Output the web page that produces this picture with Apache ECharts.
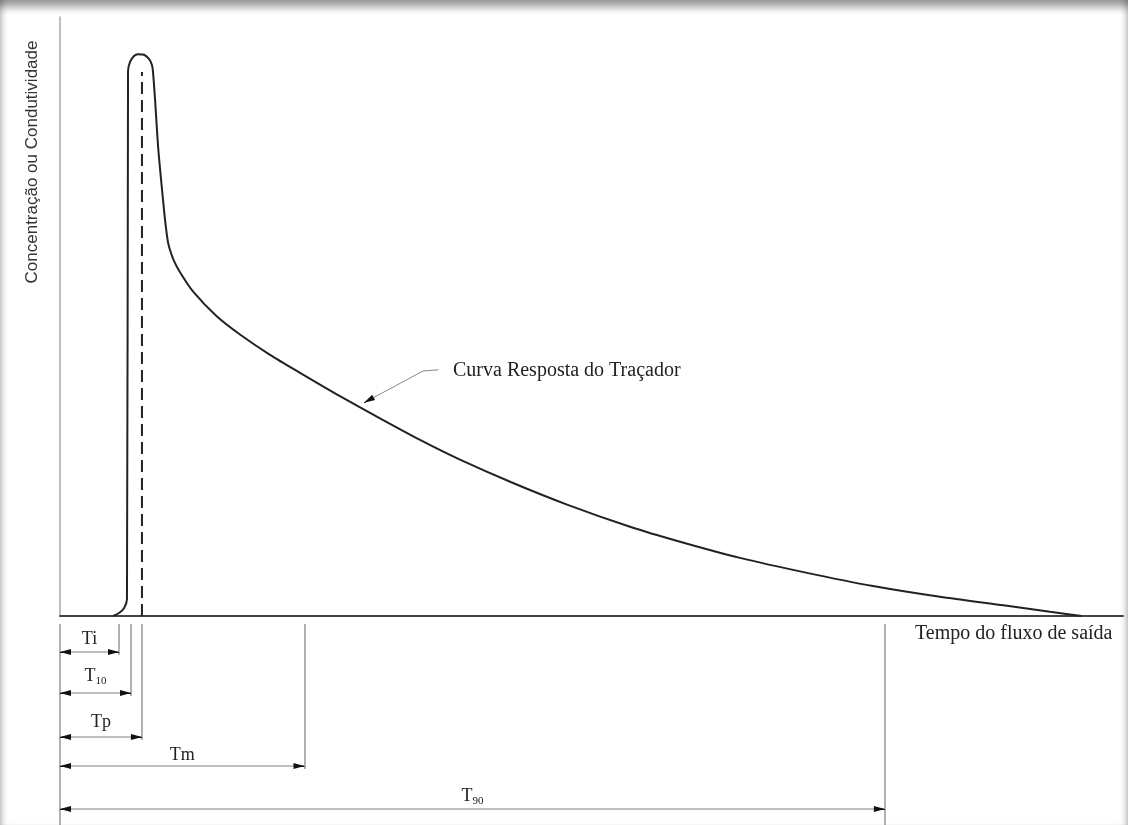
<!DOCTYPE html>
<html>
<head>
<meta charset="utf-8">
<script src="https://cdn.jsdelivr.net/npm/echarts@6/dist/echarts.min.js"></script>
<style>
  html, body { margin: 0; padding: 0; background: #fff; }
  #chart { width: 1128px; height: 825px; }
  #frame {
    position: absolute; left: 0; top: 0; width: 1128px; height: 825px; pointer-events: none;
    box-shadow: inset 0 12px 8px -5px rgba(0,0,0,0.4), inset 6px 0 6px -4px rgba(0,0,0,0.25), inset -6px 0 6px -4px rgba(0,0,0,0.25);
  }
</style>
</head>
<body>
<div id="chart"></div>
<div id="frame"></div>
<script>
  // curva resposta do traçador (tempo, concentração em unidades relativas 0-100)
  let curveTime = [4.99, 5.55, 6.02, 6.30, 6.40, 6.59, 6.96, 7.34, 7.90, 8.37, 8.65, 8.75, 8.94, 9.22, 9.50, 9.78, 9.97, 10.16, 10.35, 10.72,
    11.29, 12.51, 14.77, 16.93, 19.76, 22.58, 26.34, 30.10, 33.87, 37.63, 42.62, 47.70, 53.62, 58.33, 63.97, 70.27, 76.48, 82.78, 89.09, 93.13, 96.1]
  let curveConc = [0, 0.5, 1.3, 2.8, 91.0, 92.5, 93.5, 93.8, 93.7, 93.0, 92.0, 90.8, 86.3, 78.5, 73.0, 67.9, 64.8, 62.4, 61.1, 59.3,
    57.4, 54.2, 50.0, 47.0, 43.6, 40.6, 36.7, 33.0, 29.4, 26.1, 22.2, 18.6, 14.9, 12.4, 9.7, 7.2, 5.0, 3.2, 1.7, 0.7, 0]

  // tempos característicos
  let markerNames = ['Ti', 'T10', 'Tp', 'Tm', 'T90']
  let markerTimes = [5.55, 6.68, 7.71, 23.0, 77.6]
  let peakConc = 90.8

  let chart = echarts.init(document.getElementById('chart'))

  let serif = '"Liberation Serif", "Times New Roman", serif'
  let head = 'path://M0,0 L4,12 L-4,12 Z'
  let rows = [36, 77, 121, 150, 193]
  let labelGap = [2, 6, 4, 0, 2]

  // ponta de seta preta: segmento curto escondido sob o símbolo
  function arrowHead (from, to) {
    return [
      {coord: from, lineStyle: {color: '#111', width: 1}},
      {coord: to, symbol: head, symbolSize: [6, 11], symbolOffset: [0, '50%']}
    ]
  }

  let lowerLines = [
    [{coord: [0, 8]}, {coord: [0, 209]}]
  ]
  markerTimes.forEach(function (t, i) {
    lowerLines.push([{coord: [t, 8]}, {coord: [t, i === 4 ? 209 : rows[i] + 3]}])
  })
  markerTimes.forEach(function (t, i) {
    lowerLines.push([
      {coord: [0, rows[i]], name: markerNames[i], lineStyle: {color: '#aaa'}, label: {show: true, distance: labelGap[i]}},
      {coord: [t, rows[i]]}
    ])
    lowerLines.push(arrowHead([0.6, rows[i]], [0, rows[i]]))
    lowerLines.push(arrowHead([t - 0.6, rows[i]], [t, rows[i]]))
  })

  let options = {
    animation: false,
    grid: [
      {left: 60, right: 5, top: 17, bottom: 209},
      {left: 60, right: 5, top: 616, bottom: 0}
    ],
    xAxis: [
      {
        type: 'value', gridIndex: 0, min: 0, max: 100,
        axisLine: {show: true, lineStyle: {color: '#444', width: 2}},
        axisTick: {show: false}, axisLabel: {show: false}, splitLine: {show: false}
      },
      {type: 'value', gridIndex: 1, min: 0, max: 100, show: false}
    ],
    yAxis: [
      {
        type: 'value', gridIndex: 0, min: 0, max: 100,
        axisLine: {show: true, lineStyle: {color: '#aaa', width: 1.5}},
        axisTick: {show: false}, axisLabel: {show: false}, splitLine: {show: false}
      },
      {type: 'value', gridIndex: 1, min: 0, max: 209, inverse: true, show: false}
    ],
    graphic: [
      {
        type: 'text', x: 32, y: 162, rotation: Math.PI / 2,
        style: {text: 'Concentração ou Condutividade', font: '17px "Liberation Sans", Arial, sans-serif', fill: '#333', align: 'center', verticalAlign: 'middle'}
      },
      {
        type: 'text', x: 453, y: 371,
        style: {text: 'Curva Resposta do Traçador', font: '20px ' + serif, fill: '#222', align: 'left', verticalAlign: 'middle'}
      },
      {
        type: 'text', x: 915, y: 634,
        style: {text: 'Tempo do fluxo de saída', font: '20px ' + serif, fill: '#222', align: 'left', verticalAlign: 'middle'}
      }
    ],
    series: [
      {
        name: 'Curva Resposta do Traçador',
        type: 'line',
        xAxisIndex: 0, yAxisIndex: 0,
        data: curveTime.map(function (t, i) { return [t, curveConc[i]] }),
        showSymbol: false,
        smooth: 0.25,
        lineStyle: {color: '#222', width: 2},
        silent: true
      },
      {
        name: 'Tp',
        type: 'line',
        xAxisIndex: 0, yAxisIndex: 0,
        data: [[markerTimes[2], 0], [markerTimes[2], peakConc]],
        showSymbol: false,
        lineStyle: {color: '#222', width: 2, type: [12, 6]},
        silent: true,
        markLine: {
          silent: true,
          symbol: 'none',
          label: {show: false},
          lineStyle: {color: '#888', width: 1, type: 'solid'},
          data: [
            [{coord: [35.6, 41.1]}, {coord: [34.15, 40.9]}],
            [{coord: [34.15, 40.9]}, {coord: [28.6, 35.6]}],
            [{coord: [29.1, 36.1], lineStyle: {color: '#111'}}, {coord: [28.6, 35.6], symbol: head, symbolSize: [6, 11], symbolOffset: [0, '50%']}]
          ]
        }
      },
      {
        type: 'line',
        xAxisIndex: 1, yAxisIndex: 1,
        data: [],
        silent: true,
        markLine: {
          silent: true,
          symbol: 'none',
          lineStyle: {color: '#999', width: 1.5, type: 'solid'},
          label: {
            show: false,
            position: 'insideMiddleTop',
            color: '#222',
            formatter: function (p) {
              return p.name === 'T10' ? '{t|T}{s|10}' : p.name === 'T90' ? '{t|T}{s|90}' : '{t|' + p.name + '}'
            },
            rich: {
              t: {fontFamily: serif, fontSize: 18, lineHeight: 22, color: '#222'},
              s: {fontFamily: serif, fontSize: 11, lineHeight: 22, verticalAlign: 'bottom', color: '#222'}
            }
          },
          data: lowerLines
        }
      }
    ]
  }
  chart.setOption(options)
</script>
</body>
</html>
